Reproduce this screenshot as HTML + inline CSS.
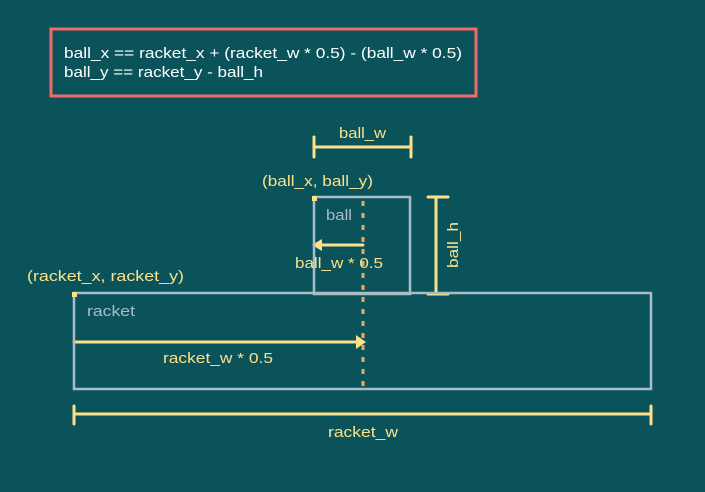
<!DOCTYPE html>
<html><head><meta charset="utf-8"><style>
html,body{margin:0;padding:0;background:#0b535b;}
svg{display:block;}
text{font-family:"Liberation Sans",sans-serif;font-size:15px;}
</style></head><body>
<svg width="705" height="492" viewBox="0 0 705 492" xmlns="http://www.w3.org/2000/svg">
<rect width="705" height="492" fill="#0b535b"/>
<rect x="51" y="29" width="425" height="67" fill="none" stroke="#f06a6a" stroke-width="3"/>
<text x="64" y="58" fill="#ffffff" font-size="16" textLength="398" lengthAdjust="spacingAndGlyphs">ball_x == racket_x + (racket_w * 0.5) - (ball_w * 0.5)</text>
<text x="64" y="77" fill="#ffffff" font-size="16" textLength="199" lengthAdjust="spacingAndGlyphs">ball_y == racket_y - ball_h</text>

<g stroke="#fde088" stroke-width="3" fill="none" stroke-linecap="round">
<line x1="314" y1="147" x2="411" y2="147"/>
<line x1="314" y1="137" x2="314" y2="157"/>
<line x1="411" y1="137" x2="411" y2="157"/>
<line x1="436" y1="197" x2="436" y2="294"/>
<line x1="428" y1="197" x2="448" y2="197"/>
<line x1="428" y1="294" x2="448" y2="294"/>
<line x1="74" y1="414" x2="651" y2="414"/>
<line x1="74" y1="406" x2="74" y2="424"/>
<line x1="651" y1="406" x2="651" y2="424"/>
<line x1="363" y1="245" x2="316" y2="245"/>
<line x1="74" y1="342" x2="362" y2="342"/>
</g>
<polygon points="312,245 322,239 322,251" fill="#fde088"/>
<polygon points="366,342 356,335 356,349" fill="#fde088"/>

<rect x="314" y="197" width="96" height="97" fill="none" stroke="#a9bcc7" stroke-width="2.5"/>
<rect x="74" y="293" width="577" height="96" fill="none" stroke="#a9bcc7" stroke-width="2.5"/>
<line x1="363" y1="201" x2="363" y2="388" stroke="#f0a85a" stroke-width="3" stroke-dasharray="5,7"/>
<rect x="312" y="196" width="5" height="5" fill="#fde088"/>
<rect x="72" y="292" width="5" height="5" fill="#fde088"/>

<g fill="#fde088">
<text x="339" y="138" textLength="47" lengthAdjust="spacingAndGlyphs">ball_w</text>
<text x="262" y="186" textLength="111" lengthAdjust="spacingAndGlyphs">(ball_x, ball_y)</text>
<text x="295" y="268" textLength="88" lengthAdjust="spacingAndGlyphs">ball_w * 0.5</text>
<text x="27" y="281" textLength="157" lengthAdjust="spacingAndGlyphs">(racket_x, racket_y)</text>
<text x="163" y="363" font-size="16" textLength="110" lengthAdjust="spacingAndGlyphs">racket_w * 0.5</text>
<text x="328" y="437" font-size="16" textLength="70" lengthAdjust="spacingAndGlyphs">racket_w</text>
<text transform="translate(458,268) rotate(-90)" textLength="46" lengthAdjust="spacingAndGlyphs">ball_h</text>
</g>
<g fill="#a9bcc7">
<text x="326" y="220" textLength="26" lengthAdjust="spacingAndGlyphs">ball</text>
<text x="87" y="316" textLength="48" lengthAdjust="spacingAndGlyphs">racket</text>
</g>
</svg>
</body></html>
